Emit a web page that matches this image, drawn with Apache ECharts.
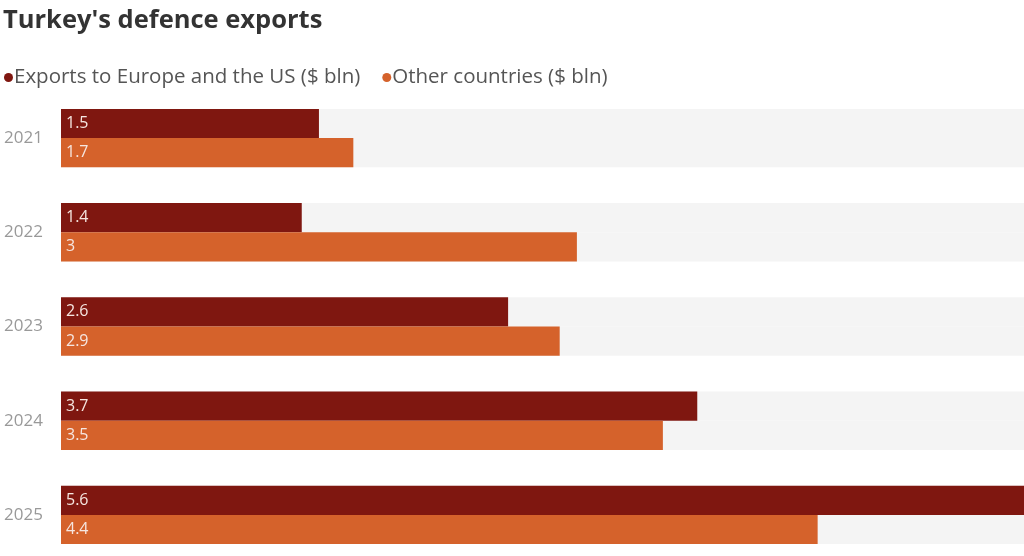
<!DOCTYPE html>
<html>
<head>
<meta charset="utf-8">
<script src="https://cdn.jsdelivr.net/npm/echarts@6/dist/echarts.min.js"></script>
<style>
  html, body { margin: 0; padding: 0; background: #fff; }
  #main { width: 1024px; height: 556px; }
</style>
</head>
<body>
<div id="main"></div>
<script>
// data
var years = ['2021', '2022', '2023', '2024', '2025']
var europeUS = [1.5, 1.4, 2.6, 3.7, 5.6]
var otherCountries = [1.7, 3, 2.9, 3.5, 4.4]
var seriesNames = ['Exports to Europe and the US ($ bln)', 'Other countries ($ bln)']

var chart = echarts.init(document.getElementById('main'))

function barSeries(name, data, color) {
  return {
    name: name,
    type: 'bar',
    data: data,
    barGap: '0%',
    barCategoryGap: '38%',
    itemStyle: { color: color },
    showBackground: true,
    backgroundStyle: { color: '#f4f4f4' },
    label: {
      show: true,
      position: 'insideLeft',
      distance: 5,
      color: '#f6e6e0',
      fontSize: 16,
      fontFamily: 'Open Sans, sans-serif'
    }
  }
}

chart.setOption({
  animation: false,
  title: {
    text: "Turkey's defence exports",
    left: -2,
    top: 3,
    textStyle: {
      fontSize: 25.5,
      fontWeight: 'bold',
      color: '#333',
      fontFamily: 'Open Sans, sans-serif'
    }
  },
  legend: {
    data: seriesNames,
    left: -1,
    top: 62,
    icon: 'circle',
    itemWidth: 9,
    itemHeight: 9,
    itemGap: 22,
    textStyle: {
      fontSize: 20.5,
      color: '#555',
      padding: [0, 0, 0, -4],
      fontFamily: 'Open Sans, sans-serif'
    }
  },
  grid: {
    left: 61,
    right: 0,
    top: 91,
    height: 471,
    outerBoundsMode: 'none'
  },
  xAxis: {
    type: 'value',
    min: 0,
    max: 5.6,
    show: false
  },
  yAxis: {
    type: 'category',
    data: years,
    inverse: true,
    axisLine: { show: false },
    axisTick: { show: false },
    axisLabel: {
      margin: 18,
      fontSize: 17,
      color: '#999',
      fontFamily: 'Open Sans, sans-serif'
    }
  },
  series: [
    barSeries(seriesNames[0], europeUS, '#7f1710'),
    barSeries(seriesNames[1], otherCountries, '#d5622b')
  ]
})
</script>
</body>
</html>
